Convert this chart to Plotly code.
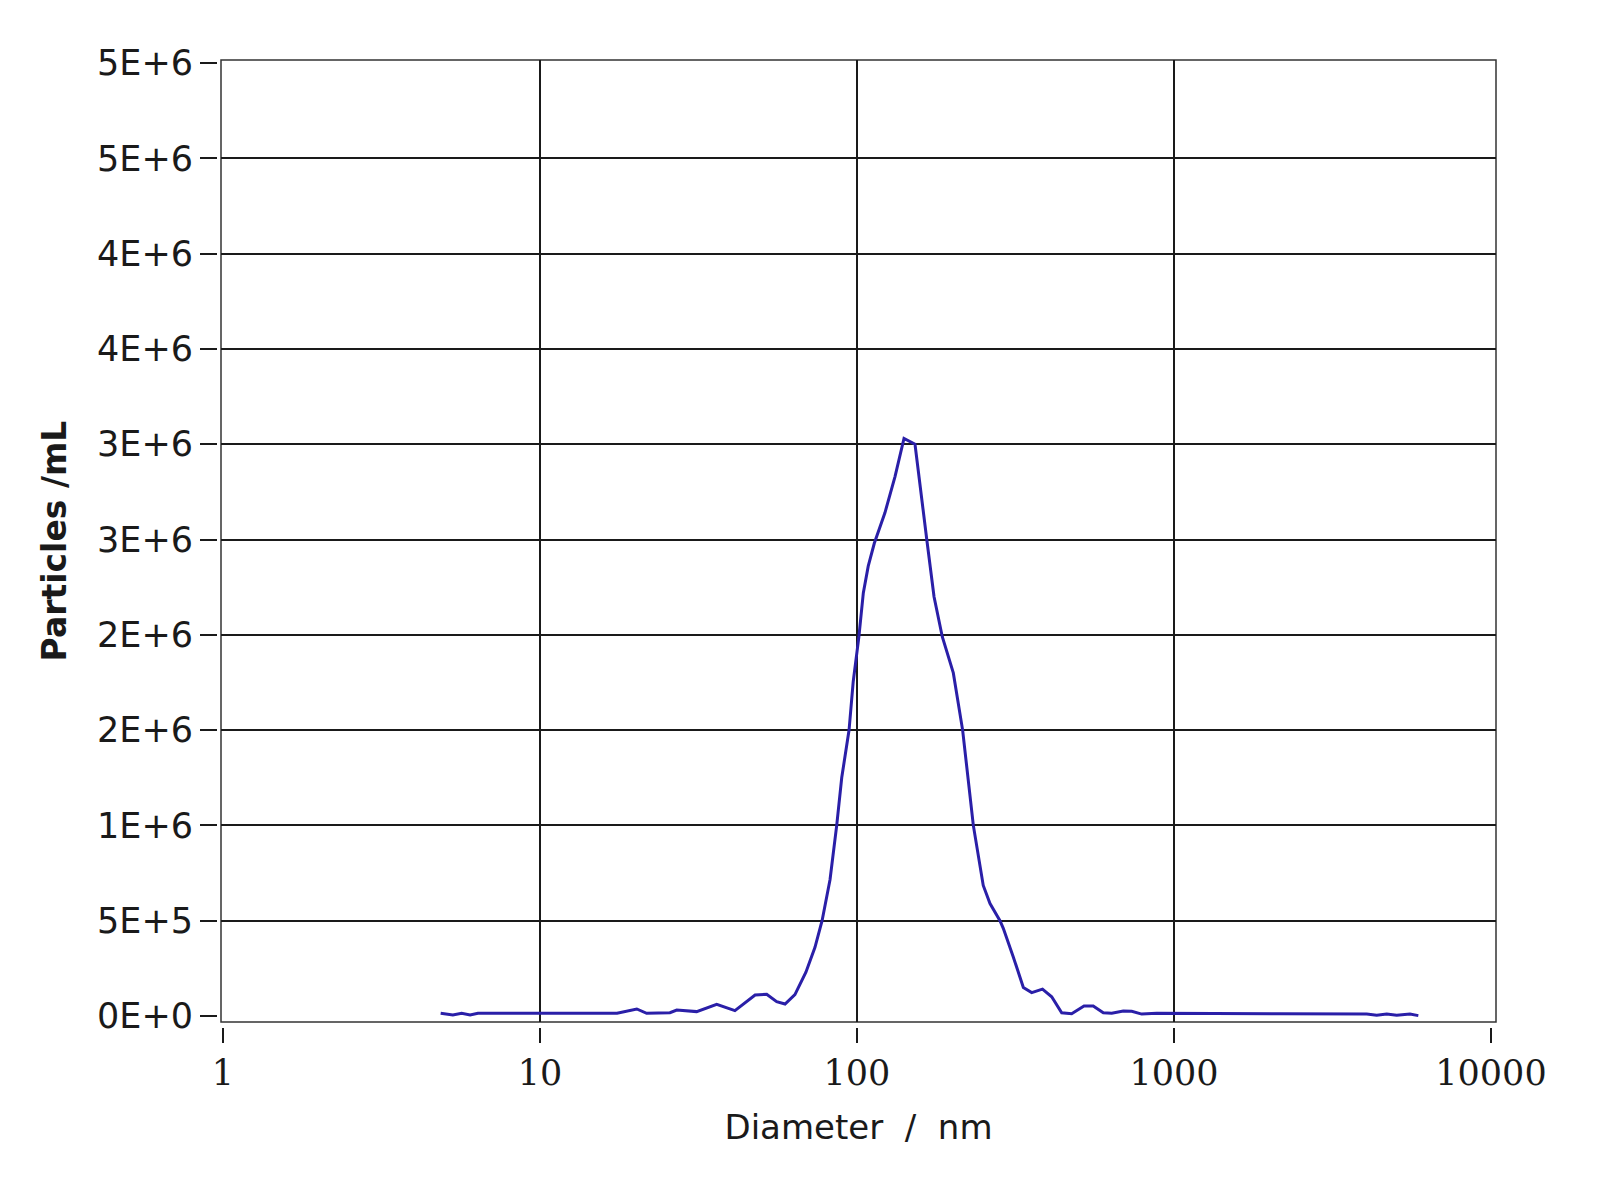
import plotly.graph_objects as go

# particle size distribution (diameter nm, particles/mL)
diameter = [4.86, 5.31, 5.66, 6.02, 6.37, 10.1, 13.4, 17.5, 20.2, 21.7, 25.7, 27.0, 31.2,
            36.1, 41.2, 47.7, 51.9, 55.8, 59.3, 63.7, 69.0, 73.7, 77.6, 82.2, 86.3, 89.5,
            94.4, 97.3, 101.4, 104.7, 108.5, 113.4, 122.5, 131.8, 140.7, 152.4, 166.0,
            175.0, 185.8, 201.3, 215.4, 232.8, 250.2, 262.8, 282.5, 289.4, 311.2, 334.8,
            355.7, 384.7, 411.3, 442.3, 475.5, 520.2, 556.2, 598.4, 636.2, 691.9, 735.7,
            791.0, 881.6, 1019.8, 1179.2, 2159, 4055, 4360, 4690, 5041, 5553, 5899]
particles = [14e3, 5e3, 14e3, 5e3, 14e3, 14e3, 14e3, 14e3, 37e3, 14e3, 17e3, 31e3, 23e3,
             61e3, 28e3, 110e3, 114e3, 75e3, 63e3, 112e3, 230e3, 360e3, 500e3, 715e3,
             1.0e6, 1.25e6, 1.5e6, 1.755e6, 1.99e6, 2.22e6, 2.36e6, 2.48e6, 2.64e6, 2.83e6,
             3.03e6, 3.0e6, 2.5e6, 2.2e6, 1.99e6, 1.8e6, 1.5e6, 1.0e6, 685e3, 590e3, 500e3,
             460e3, 310e3, 150e3, 123e3, 141e3, 101e3, 17e3, 12e3, 52e3, 52e3, 17e3, 14e3,
             26e3, 25e3, 10e3, 14e3, 14e3, 12e3, 12e3, 10e3, 4e3, 10e3, 4e3, 10e3, 2e3]

x_ticks = [1, 10, 100, 1000, 10000]
x_labels = ["1", "10", "100", "1000", "10000"]
x_grid = [10, 100, 1000]
y_ticks = [0, 5e5, 1e6, 1.5e6, 2e6, 2.5e6, 3e6, 3.5e6, 4e6, 4.5e6, 5e6]
y_labels = ["0E+0", "5E+5", "1E+6", "2E+6", "2E+6", "3E+6", "3E+6", "4E+6", "4E+6", "5E+6", "5E+6"]
y_grid = [5e5, 1e6, 1.5e6, 2e6, 2.5e6, 3e6, 3.5e6, 4e6, 4.5e6]

fig = go.Figure()
fig.add_trace(go.Scatter(x=diameter, y=particles, mode="lines",
                         line=dict(color="#2a1fa8", width=3), showlegend=False))

grid = "#1a1a1a"
fig.update_layout(
    width=1600, height=1200,
    margin=dict(l=209, r=112, t=52, b=181),
    plot_bgcolor="white", paper_bgcolor="white",
    font=dict(family="DejaVu Sans", color="#1a1a1a"),
    xaxis=dict(type="log", range=[-0.0063, 4.0158], domain=[4 / 1279, 1],
               anchor="free", position=0, automargin=False,
               tickvals=x_ticks, ticktext=x_labels,
               tickfont=dict(family="DejaVu Serif", size=35, color="#1a1a1a"),
               ticks="outside", ticklen=15, tickwidth=1.5, tickcolor=grid,
               ticklabelstandoff=0,
               showgrid=False, showline=False, zeroline=False,
               minor=dict(tickvals=x_grid, showgrid=True, gridcolor=grid, gridwidth=1.5,
                          ticks=""),
               title=dict(text="Diameter\u00a0\u00a0/\u00a0\u00a0nm", standoff=23,
                          font=dict(family="DejaVu Sans", size=34, color="#1a1a1a"))),
    yaxis=dict(range=[-31480, 5.0157e6], domain=[5 / 967, 1],
               anchor="free", position=0, automargin=False,
               tickvals=y_ticks, ticktext=y_labels,
               tickfont=dict(family="DejaVu Sans", size=35, color="#1a1a1a"),
               ticks="outside", ticklen=17, tickwidth=1.5, tickcolor=grid,
               ticklabelstandoff=0,
               showgrid=False, showline=False, zeroline=False,
               minor=dict(tickvals=y_grid, showgrid=True, gridcolor=grid, gridwidth=1.5,
                          ticks=""),
               title=dict(text="<b>Particles /mL</b>", standoff=19,
                          font=dict(family="DejaVu Sans", size=33, color="#1a1a1a"))),
)
fig.add_shape(type="rect", xref="x domain", yref="y domain", x0=0, x1=1, y0=0, y1=1,
              line=dict(color="#333333", width=1.5), layer="below")

fig.write_html("out.html")
